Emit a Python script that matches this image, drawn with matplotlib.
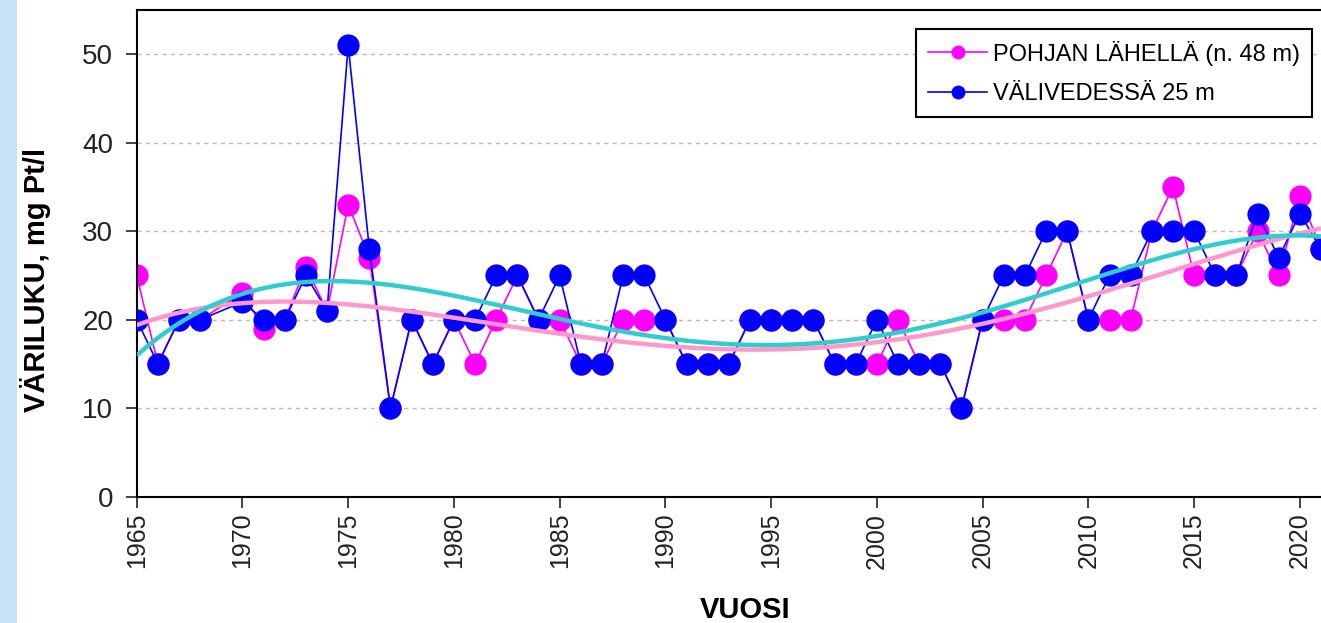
import numpy as np
import matplotlib
matplotlib.use("Agg")
import matplotlib.pyplot as plt
from matplotlib.patches import Rectangle

plt.rcParams['font.family'] = ['Liberation Sans', 'DejaVu Sans']

# vuodet (1969 puuttuu)
years = [1965, 1966, 1967, 1968, 1970, 1971, 1972, 1973, 1974, 1975,
         1976, 1977, 1978, 1979, 1980, 1981, 1982, 1983, 1984, 1985,
         1986, 1987, 1988, 1989, 1990, 1991, 1992, 1993, 1994, 1995,
         1996, 1997, 1998, 1999, 2000, 2001, 2002, 2003, 2004, 2005,
         2006, 2007, 2008, 2009, 2010, 2011, 2012, 2013, 2014, 2015,
         2016, 2017, 2018, 2019, 2020, 2021]

pohja = [25, 15, 20, 20, 23, 19, 20, 26, 21, 33,
         27, 10, 20, 15, 20, 15, 20, 25, 20, 20,
         15, 15, 20, 20, 20, 15, 15, 15, 20, 20,
         20, 20, 15, 15, 15, 20, 15, 15, 10, 20,
         20, 20, 25, 30, 20, 20, 20, 30, 35, 25,
         25, 25, 30, 25, 34, 28]

valivesi = [20, 15, 20, 20, 22, 20, 20, 25, 21, 51,
            28, 10, 20, 15, 20, 20, 25, 25, 20, 25,
            15, 15, 25, 25, 20, 15, 15, 15, 20, 20,
            20, 20, 15, 15, 20, 15, 15, 15, 10, 20,
            25, 25, 30, 30, 20, 25, 25, 30, 30, 30,
            25, 25, 32, 27, 32, 28]

label_pohja = "POHJAN LÄHELLÄ (n. 48 m)"
label_vali = "VÄLIVEDESSÄ 25 m"

x = np.array(years, dtype=float)

fig = plt.figure(figsize=(13.21, 6.23), dpi=100)
fig.patches.append(Rectangle((0, 0), 17 / 1321, 1, transform=fig.transFigure,
                             facecolor='#C5E3F4', edgecolor='none', zorder=-1))
ax = fig.add_axes([0.1035, 0.2027, 0.8965, 0.7813])

ax.plot(years, pohja, color='#FF00FF', lw=1.2, marker='o', ms=15,
        mec='#FF00FF', mfc='#FF00FF', label=label_pohja, zorder=2)
ax.plot(years, valivesi, color='#0000FF', lw=1.2, marker='o', ms=15,
        mec='#0000FF', mfc='#0000FF', label=label_vali, zorder=3)

# polynomitrendit (kuten Excelissä)
xs = np.linspace(1965, 2021, 300)
p1 = np.polyfit(x - 1990, pohja, 4)
p2 = np.polyfit(x - 1990, valivesi, 4)
ax.plot(xs, np.polyval(p1, xs - 1990), color='#FF99CC', lw=3.2, zorder=4,
        solid_capstyle='butt')
ax.plot(xs, np.polyval(p2, xs - 1990), color='#33CCCC', lw=3.2, zorder=5,
        solid_capstyle='butt')

ax.set_xlim(1965, 2021)
ax.set_ylim(0, 55)
ax.set_xticks(range(1965, 2021, 5))
ax.set_yticks(range(0, 51, 10))
ax.tick_params(axis='x', labelrotation=90, labelsize=18, length=8, width=1.2,
               direction='out', colors='#222222')
ax.tick_params(axis='y', labelsize=20, length=8, width=1.2, direction='out',
               colors='#222222', pad=9)
ax.yaxis.grid(True, color='#BBBBBB', linestyle=(0, (3, 3)), linewidth=1)
ax.set_axisbelow(True)

for s in ['left', 'bottom', 'top']:
    ax.spines[s].set_linewidth(1.5)
    ax.spines[s].set_color('black')
ax.spines['right'].set_visible(False)

ax.set_xlabel("VUOSI", fontsize=21, fontweight='bold')
ax.set_ylabel("VÄRILUKU, mg Pt/l", fontsize=21, fontweight='bold')
ax.xaxis.set_label_coords(0.514, -0.204)
ax.yaxis.set_label_coords(-0.0725, 0.446)

leg = ax.legend(loc='upper right', bbox_to_anchor=(0.9924, 0.961),
                borderaxespad=0, fontsize=17, markerscale=0.6, handlelength=2.5,
                handletextpad=0.25, borderpad=0.5, labelspacing=0.75,
                fancybox=False, framealpha=1, edgecolor='black')
leg.get_frame().set_linewidth(1.5)

fig.savefig("out.png", dpi=100)
